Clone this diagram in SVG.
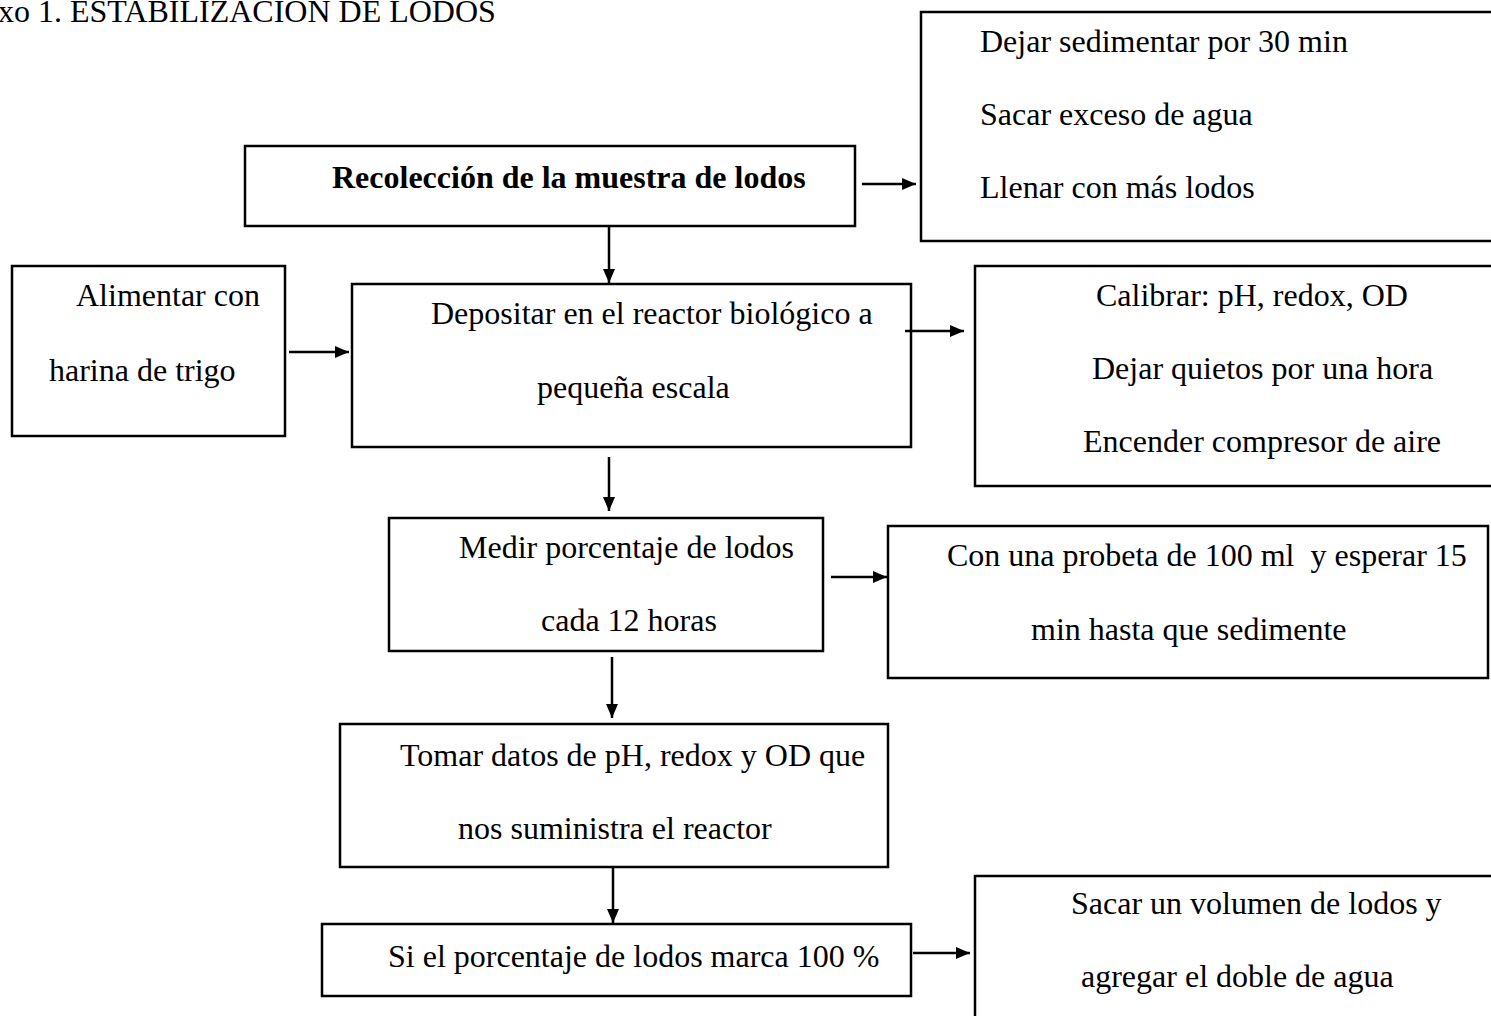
<svg xmlns="http://www.w3.org/2000/svg" width="1491" height="1016" viewBox="0 0 1491 1016">
<defs>
<marker id="ah" viewBox="0 0 14 12" refX="14" refY="6" markerWidth="14" markerHeight="12" markerUnits="userSpaceOnUse" orient="auto">
<path d="M0,0 L14,6 L0,12 Z" fill="#000"/>
</marker>
</defs>
<style>
.box{fill:#fff;stroke:#000;stroke-width:2.5}
.t{font-family:"Liberation Serif","Times New Roman",serif;font-size:32px;fill:#000}
.b{font-weight:bold}
.c{stroke:#000;stroke-width:2.5;fill:none;marker-end:url(#ah)}
</style>
<rect width="1491" height="1016" fill="#fff"/>
<text class="t" x="-2" y="22" font-size="30">xo 1. ESTABILIZACIÓN DE LODOS</text>

<g id="n-sedimentar">
<rect class="box" x="921" y="12" width="580" height="229"/>
<text class="t" x="980" y="52">Dejar sedimentar por 30 min</text>
<text class="t" x="980" y="125">Sacar exceso de agua</text>
<text class="t" x="980" y="198">Llenar con más lodos</text>
</g>
<g id="n-recoleccion">
<rect class="box" x="245" y="146" width="610" height="80"/>
<text class="t b" x="332" y="188">Recolección de la muestra de lodos</text>
</g>
<g id="n-alimentar">
<rect class="box" x="12" y="266" width="273" height="170"/>
<text class="t" x="76" y="306">Alimentar con</text>
<text class="t" x="49" y="381">harina de trigo</text>
</g>
<g id="n-depositar">
<rect class="box" x="352" y="284" width="559" height="163"/>
<text class="t" x="431" y="324">Depositar en el reactor biológico a</text>
<text class="t" x="537" y="398">pequeña escala</text>
</g>
<g id="n-calibrar">
<rect class="box" x="975" y="266" width="530" height="220"/>
<text class="t" x="1096" y="306">Calibrar: pH, redox, OD</text>
<text class="t" x="1092" y="379">Dejar quietos por una hora</text>
<text class="t" x="1083" y="452">Encender compresor de aire</text>
</g>
<g id="n-medir">
<rect class="box" x="389" y="518" width="434" height="133"/>
<text class="t" x="459" y="558">Medir porcentaje de lodos</text>
<text class="t" x="541" y="631">cada 12 horas</text>
</g>
<g id="n-probeta">
<rect class="box" x="888" y="526" width="600" height="152"/>
<text class="t" x="947" y="566" xml:space="preserve">Con una probeta de 100 ml  y esperar 15</text>
<text class="t" x="1031" y="640">min hasta que sedimente</text>
</g>
<g id="n-tomar">
<rect class="box" x="340" y="724" width="548" height="143"/>
<text class="t" x="400" y="766">Tomar datos de pH, redox y OD que</text>
<text class="t" x="458" y="839">nos suministra el reactor</text>
</g>
<g id="n-si">
<rect class="box" x="322" y="924" width="589" height="72"/>
<text class="t" x="388" y="967">Si el porcentaje de lodos marca 100 %</text>
</g>
<g id="n-sacar">
<rect class="box" x="975" y="876" width="530" height="160"/>
<text class="t" x="1071" y="914">Sacar un volumen de lodos y</text>
<text class="t" x="1081" y="987">agregar el doble de agua</text>
</g>

<g id="connectors">
<line class="c" x1="862" y1="184" x2="916" y2="184"/>
<line class="c" x1="609" y1="226" x2="609" y2="283"/>
<line class="c" x1="289" y1="352" x2="349" y2="352"/>
<line class="c" x1="905" y1="331" x2="964" y2="331"/>
<line class="c" x1="609" y1="457" x2="609" y2="511"/>
<line class="c" x1="831" y1="577" x2="887" y2="577"/>
<line class="c" x1="612" y1="657" x2="612" y2="718"/>
<line class="c" x1="613" y1="867" x2="613" y2="923"/>
<line class="c" x1="913" y1="953" x2="970" y2="953"/>
</g>
</svg>
